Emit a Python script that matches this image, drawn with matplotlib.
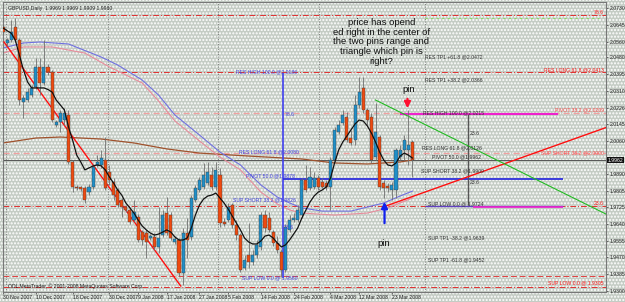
import matplotlib
matplotlib.use('Agg')
import matplotlib.pyplot as plt
import numpy as np

# ---------------- data ----------------
opens = [2.0634, 2.0553, 2.0568, 2.0634, 2.0568, 2.0255, 2.0265, 2.0290, 2.0331, 2.0432,
         2.0351, 2.0432, 2.0406, 2.0139, 2.0154, 2.0164, 2.0189, 1.9952, 1.9826, 1.9826,
         1.9821, 1.9800, 1.9826, 1.9937, 1.9937, 1.9962, 1.9901, 1.9851, 1.9811, 1.9760,
         1.9725, 1.9710, 1.9659, 1.9674, 1.9598, 1.9593, 1.9568, 1.9573, 1.9523, 1.9583,
         1.9694, 1.9684, 1.9548, 1.9558, 1.9391, 1.9593, 1.9573, 1.9760, 1.9811, 1.9826,
         1.9846, 1.9886, 1.9826, 1.9886, 1.9649, 1.9659, 1.9735, 1.9634, 1.9583, 1.9417,
         1.9482, 1.9447, 1.9482, 1.9523, 1.9684, 1.9669, 1.9598, 1.9543, 1.9497, 1.9407,
         1.9609, 1.9659, 1.9659, 1.9684, 1.9861, 1.9821, 1.9826, 1.9871, 1.9851, 1.9846,
         1.9826, 1.9962, 2.0103, 2.0149, 2.0179, 2.0073, 2.0063, 2.0240, 2.0326, 2.0215,
         2.0179, 1.9977, 2.0078, 1.9846, 1.9831, 1.9811, 1.9811, 1.9977, 2.0013, 2.0013,
         2.0053]
highs = [2.0669, 2.0578, 2.0669, 2.0679, 2.0578, 2.0290, 2.0326, 2.0341, 2.0477, 2.0477,
         2.0568, 2.0447, 2.0417, 2.0164, 2.0215, 2.0225, 2.0215, 1.9962, 1.9836, 1.9831,
         1.9831, 1.9841, 1.9942, 1.9987, 2.0013, 2.0078, 1.9937, 1.9871, 1.9821, 1.9770,
         1.9735, 1.9725, 1.9760, 1.9689, 1.9609, 1.9609, 1.9588, 1.9593, 1.9725, 1.9710,
         1.9775, 1.9699, 1.9578, 1.9568, 1.9619, 1.9669, 1.9785, 1.9836, 1.9876, 1.9947,
         1.9952, 1.9927, 1.9952, 1.9922, 1.9669, 1.9745, 1.9745, 1.9659, 1.9593, 1.9482,
         1.9644, 1.9508, 1.9558, 1.9699, 1.9710, 1.9699, 1.9609, 1.9578, 1.9513, 1.9639,
         1.9684, 1.9694, 1.9735, 1.9871, 1.9937, 1.9927, 1.9901, 1.9886, 1.9871, 1.9861,
         1.9977, 2.0129, 2.0164, 2.0215, 2.0204, 2.0114, 2.0290, 2.0381, 2.0381, 2.0225,
         2.0199, 2.0250, 2.0088, 1.9861, 1.9846, 1.9851, 2.0023, 2.0038, 2.0088, 2.0215,
         2.0063]
lows = [2.0593, 2.0538, 2.0558, 2.0558, 2.0240, 2.0174, 2.0255, 2.0280, 2.0321, 2.0290,
        2.0341, 2.0391, 2.0154, 2.0129, 2.0103, 2.0139, 1.9942, 1.9800, 1.9811, 1.9805,
        1.9745, 1.9785, 1.9816, 1.9927, 1.9922, 1.9811, 1.9836, 1.9760, 1.9725, 1.9674,
        1.9699, 1.9639, 1.9649, 1.9548, 1.9533, 1.9467, 1.9558, 1.9508, 1.9492, 1.9573,
        1.9583, 1.9558, 1.9538, 1.9376, 1.9331, 1.9467, 1.9558, 1.9750, 1.9800, 1.9816,
        1.9836, 1.9811, 1.9811, 1.9624, 1.9629, 1.9649, 1.9619, 1.9558, 1.9396, 1.9407,
        1.9417, 1.9432, 1.9467, 1.9508, 1.9598, 1.9598, 1.9528, 1.9492, 1.9371, 1.9396,
        1.9598, 1.9649, 1.9649, 1.9669, 1.9800, 1.9811, 1.9816, 1.9811, 1.9821, 1.9811,
        1.9710, 1.9952, 2.0093, 2.0139, 2.0053, 2.0038, 2.0038, 2.0225, 2.0199, 2.0139,
        1.9947, 1.9962, 1.9811, 1.9770, 1.9800, 1.9760, 1.9770, 1.9962, 1.9962, 1.9937,
        1.9876]
closes = [2.0608, 2.0568, 2.0608, 2.0568, 2.0265, 2.0275, 2.0305, 2.0326, 2.0432, 2.0351,
          2.0432, 2.0406, 2.0164, 2.0154, 2.0199, 2.0199, 1.9952, 1.9826, 1.9821, 1.9816,
          1.9760, 1.9826, 1.9927, 1.9952, 1.9972, 1.9821, 1.9861, 1.9785, 1.9735, 1.9725,
          1.9710, 1.9649, 1.9699, 1.9558, 1.9558, 1.9548, 1.9578, 1.9523, 1.9568, 1.9684,
          1.9593, 1.9568, 1.9563, 1.9391, 1.9593, 1.9558, 1.9770, 1.9821, 1.9861, 1.9886,
          1.9901, 1.9826, 1.9912, 1.9644, 1.9639, 1.9725, 1.9634, 1.9583, 1.9407, 1.9457,
          1.9447, 1.9482, 1.9533, 1.9684, 1.9619, 1.9609, 1.9543, 1.9508, 1.9407, 1.9624,
          1.9659, 1.9669, 1.9710, 1.9861, 1.9811, 1.9876, 1.9871, 1.9826, 1.9826, 1.9826,
          1.9962, 2.0114, 2.0139, 2.0189, 2.0063, 2.0048, 2.0240, 2.0305, 2.0215, 2.0164,
          1.9962, 2.0103, 1.9826, 1.9821, 1.9821, 1.9836, 2.0013, 2.0013, 2.0063, 2.0038,
          1.9962]

ma_black = [2.0629, 2.0615, 2.0603, 2.0568, 2.0492, 2.0417, 2.0356, 2.0326, 2.0326, 2.0326,
            2.0326, 2.0318, 2.0305, 2.0265, 2.0240, 2.0215, 2.0129, 2.0063, 1.9987, 1.9952,
            1.9912, 1.9922, 1.9932, 1.9937, 1.9932, 1.9912, 1.9876, 1.9846, 1.9811, 1.9785,
            1.9745, 1.9720, 1.9694, 1.9659, 1.9629, 1.9609, 1.9593, 1.9583, 1.9588, 1.9598,
            1.9609, 1.9598, 1.9573, 1.9558, 1.9558, 1.9568, 1.9619, 1.9684, 1.9735, 1.9765,
            1.9780, 1.9785, 1.9795, 1.9770, 1.9745, 1.9715, 1.9679, 1.9644, 1.9609, 1.9568,
            1.9548, 1.9538, 1.9538, 1.9553, 1.9578, 1.9583, 1.9568, 1.9543, 1.9523, 1.9533,
            1.9558, 1.9588, 1.9619, 1.9669, 1.9710, 1.9750, 1.9780, 1.9800, 1.9811, 1.9826,
            1.9871, 1.9947, 2.0013, 2.0053, 2.0083, 2.0114, 2.0144, 2.0164, 2.0159, 2.0134,
            2.0098, 2.0053, 2.0002, 1.9962, 1.9937, 1.9932, 1.9947, 1.9982, 1.9997, 1.9987,
            1.9972]

ma_blue_idx = [0, 5, 9, 16, 24, 28, 34, 38, 42, 48, 53, 58, 63, 67, 70, 73, 78, 85, 93, 97, 100]
ma_blue = [2.0528, 2.0553, 2.0558, 2.0548, 2.0482, 2.0442, 2.0366, 2.0290, 2.0189, 2.0088,
           2.0002, 1.9937, 1.9836, 1.9775, 1.9745, 1.9720, 1.9704, 1.9704, 1.9745, 1.9780, 1.9805]
ma_pink_idx = [0, 5, 12, 20, 26, 34, 38, 42, 48, 53, 58, 63, 67, 70, 73, 81, 89, 94, 100]
ma_pink = [2.0502, 2.0533, 2.0533, 2.0502, 2.0432, 2.0351, 2.0260, 2.0159, 2.0058, 1.9977,
           1.9912, 1.9800, 1.9740, 1.9710, 1.9694, 1.9684, 1.9694, 1.9720, 1.9770]
ma_brown_idx = [0, 8, 14, 24, 32, 40, 48, 60, 73, 81, 89, 97, 100]
ma_brown = [2.0048, 2.0073, 2.0078, 2.0068, 2.0048, 2.0018, 1.9997, 1.9982, 1.9967, 1.9947,
            1.9942, 1.9952, 1.9962]

date_labels = ['30 Nov 2007', '10 Dec 2007', '18 Dec 2007', '30 Dec 2007', '9 Jan 2008',
               '17 Jan 2008', '27 Jan 2008', '5 Feb 2008', '14 Feb 2008', '24 Feb 2008',
               '4 Mar 2008', '12 Mar 2008', '23 Mar 2008']
date_bars = [0, 8, 17, 26, 33, 40, 48, 55, 63, 71, 80, 87, 95]

price_ticks = [2.0730, 2.0645, 2.0560, 2.0480, 2.0395, 2.0310, 2.0226, 2.0145, 2.0060,
               1.9890, 1.9805, 1.9725, 1.9640, 1.9555, 1.9470, 1.9385, 1.9300]
current_price = 1.9962

# ---------------- figure ----------------
W, H = 625, 302
fig = plt.figure(figsize=(W / 100, H / 100), dpi=100)
plt.rcParams['hatch.color'] = 'white'
plt.rcParams['hatch.linewidth'] = 0.35
fig.patch.set_facecolor('#c4ccc4')
fig.patch.set_hatch('.....')
FONT = 'Liberation Sans'
FS = 3.7

ax = fig.add_axes([3 / W, 10 / H, 603 / W, 290 / H])
ax.set_facecolor('none')
ax.set_xlim(0.24, 147.3)
ax.set_ylim(1.92954, 2.0760)
for s in ax.spines.values():
    s.set_color('#777777')
    s.set_linewidth(0.8)

n = len(closes)
idx = np.arange(n)
o = np.array(opens); c = np.array(closes); h = np.array(highs); l = np.array(lows)
bull = c >= o

# grid (vertical dotted)
for gx in [0.7, 25.6, 52.4, 77.3, 103.2]:
    ax.axvline(gx, color='#666666', lw=0.6, ls=(0, (1, 2)), zorder=1)

# horizontal level lines (full width)
ax.axhline(2.0694, color='#e03030', lw=0.7, ls=(0, (6, 2, 1, 2)), zorder=1)
ax.axhline(2.0405, color='#e03030', lw=0.7, ls=(0, (6, 2, 1, 2)), zorder=1)
ax.axhline(2.0197, color='#f0a0a0', lw=0.9, ls=(0, (5, 3)), zorder=1)
ax.axhline(1.9995, color='#f0a0a0', lw=0.9, ls=(0, (5, 3)), zorder=1)
ax.axhline(1.9730, color='#e03030', lw=0.7, ls=(0, (6, 2, 1, 2)), zorder=1)
ax.axhline(1.9376, color='#e04040', lw=0.7, ls=(0, (6, 3)), zorder=1)
ax.axhline(1.9321, color='#e03030', lw=0.7, ls=(0, (6, 2, 1, 2)), zorder=1)
ax.axhline(current_price, color='#555555', lw=0.7, zorder=1)
ax.hlines(2.0679, 103.2, 145.5, color='#88dd66', lw=0.8, ls=(0, (2, 3)), zorder=1)

# moving averages
ax.plot(ma_brown_idx, ma_brown, color='#a0522d', lw=0.9, zorder=2)
ax.plot(ma_pink_idx, ma_pink, color='#e88c9c', lw=0.8, zorder=2)
ax.plot(ma_blue_idx, ma_blue, color='#7070e0', lw=0.8, zorder=2)

# fib tools
ax.vlines(68.3, 1.9366, 2.0401, color='#4040ee', lw=1.2, zorder=2)
ax.hlines(1.9868, 68.3, 136.8, color='#3030dd', lw=1.3, zorder=2)
ax.vlines(113.7, 1.9735, 2.0199, color='#555555', lw=1.0, zorder=2)
ax.hlines(2.0194, 97.0, 135.6, color='#ee22cc', lw=1.5, zorder=2)
ax.hlines(1.9730, 103.2, 136.8, color='#6040c0', lw=1.0, zorder=2)
ax.hlines(1.9725, 114.9, 136.8, color='#ee22cc', lw=1.2, zorder=2)

# trend lines
ax.plot([0.24, 43.4], [2.0558, 1.9326], color='#ff1010', lw=1.0, zorder=3)
ax.plot([92.9, 147.3], [1.9725, 2.0126], color='#ff1010', lw=1.0, zorder=3)
ax.plot([91.0, 147.3], [2.0265, 1.9689], color='#22bb22', lw=0.8, zorder=3)

# candles
ax.vlines(idx, l, h, color='#707070', lw=0.6, zorder=4)
body_bot = np.minimum(o, c)
body_h = np.maximum(np.abs(c - o), 0.0004)
ax.bar(idx, body_h, bottom=body_bot, width=0.75,
       color=np.where(bull, '#1f8fc8', '#ee4a10'), edgecolor='#404040', linewidth=0.3, zorder=5)

ax.plot(idx, ma_black, color='#111111', lw=0.9, zorder=6)

# arrows
ax.annotate('', xy=(98.8, 2.0209), xytext=(98.8, 2.0285),
            arrowprops=dict(arrowstyle='-|>', color='#ff1030', lw=1.6, mutation_scale=9), zorder=7)
ax.annotate('', xy=(93.2, 1.9765), xytext=(93.2, 1.9629),
            arrowprops=dict(arrowstyle='-|>', color='#1020ee', lw=1.6, mutation_scale=9), zorder=7)

# text
small = dict(fontsize=FS, family=FONT, va='center', ha='left', zorder=8)
ax.text(92.4, 2.0558, 'price has opend\ned right in the center of\nthe two pins range and\ntriangle which pin is\nright?',
        fontsize=6.8, family=FONT, ha='center', va='center', linespacing=1.1, color='#111111', zorder=8)
ax.text(99.0, 2.0316, 'pin', fontsize=6.8, family=FONT, ha='center', va='center', color='#111111')
ax.text(93.0, 1.9538, 'pin', fontsize=6.8, family=FONT, ha='center', va='center', color='#111111')

blue_c = '#4545e0'
ax.text(56.8, 2.0406, 'RES HIGH 100.0 @2.0186', color=blue_c, **small)
ax.text(68.8, 2.0194, '78.6', color=blue_c, **small)
ax.text(57.6, 2.0002, 'RES LONG 61.8 @2.0080', color=blue_c, **small)
ax.text(59.3, 1.9881, 'PIVOT 50.0 @1.9878', color=blue_c, **small)
ax.text(56.1, 1.9760, 'SUP SHORT 38.2 @1.9826', color=blue_c, **small)
ax.text(68.5, 1.9619, '23.6', color=blue_c, **small)
ax.text(58.3, 1.9366, 'SUP LOW 0.0 @ 1.9560', color=blue_c, **small)

gray_c = '#333333'
ax.text(103.2, 2.0482, 'RES TP1 +61.8 @2.0472', color=gray_c, **small)
ax.text(103.2, 2.0366, 'RES TP1 +38.2 @2.0366', color=gray_c, **small)
ax.text(102.7, 2.0199, 'RES HIGH 100.0 @2.0215', color=gray_c, **small)
ax.text(102.4, 2.0023, 'RES LONG 61.8 @2.0126', color=gray_c, **small)
ax.text(104.9, 1.9977, 'PIVOT 50.0 @1.9962', color=gray_c, **small)
ax.text(102.0, 1.9907, 'SUP SHORT 38.2 @1.9909', color=gray_c, **small)
ax.text(103.9, 1.9740, 'SUP LOW 0.0 @ 1.9724', color=gray_c, **small)
ax.text(103.9, 1.9568, 'SUP TP1 -38.2 @1.9639', color=gray_c, **small)
ax.text(103.9, 1.9457, 'SUP TP1 -61.8 @1.9452', color=gray_c, **small)
ax.text(114.1, 2.0098, '23.6', color=gray_c, **small)
ax.text(114.1, 1.9846, '23.6', color=gray_c, **small)

red_small = dict(small); red_small['ha'] = 'right'
ax.text(146.8, 2.0709, '78.6', color='#ff2020', **red_small)
ax.text(146.8, 2.0417, 'RES LONG 61.8 @2.0413', color='#ff2020', **red_small)
ax.text(146.8, 2.0215, 'PIVOT 38.2 @2.0209', color='#ff5050', **red_small)
ax.text(146.8, 1.9997, 'SUP SHORT 38.2 @2.0000', color='#ff5050', **red_small)
ax.text(146.8, 1.9740, '23.6', color='#ff2020', **red_small)
ax.text(146.8, 1.9341, 'SUP LOW 0.0 @ 1.9305', color='#ff2020', **red_small)

ax.text(0.008, 0.985, 'GBPUSD,Daily  1.9969 1.9969 1.9909 1.9960', transform=ax.transAxes,
        fontsize=FS, family=FONT, color='#222222', ha='left', va='top')
ax.text(0.008, 0.012, 'ODL MetaTrader, \u00a9 2001-2008 MetaQuotes Software Corp.', transform=ax.transAxes,
        fontsize=FS, family=FONT, color='#222222', ha='left', va='bottom')

# axes ticks
ax.yaxis.tick_right()
ax.set_yticks(price_ticks)
ax.set_yticklabels(['%.4f' % p for p in price_ticks])
ax.tick_params(axis='y', labelsize=FS, length=1.5, width=0.6, color='#555555', pad=1, labelcolor='#222222')
ax.set_xticks(date_bars)
ax.set_xticklabels(date_labels)
ax.tick_params(axis='x', labelsize=FS, length=1.5, width=0.6, color='#555555', pad=1, labelcolor='#222222')
for lab in ax.get_xticklabels():
    lab.set_ha('left')
    lab.set_family(FONT)
for lab in ax.get_yticklabels():
    lab.set_family(FONT)

ax.text(1.003, current_price, '%.4f' % current_price, transform=ax.get_yaxis_transform(),
        fontsize=FS, family=FONT, color='white', ha='left', va='center',
        bbox=dict(boxstyle='square,pad=0.12', fc='#111111', ec='none'), clip_on=False)

fig.savefig('out.png', dpi=100, facecolor=fig.get_facecolor())
